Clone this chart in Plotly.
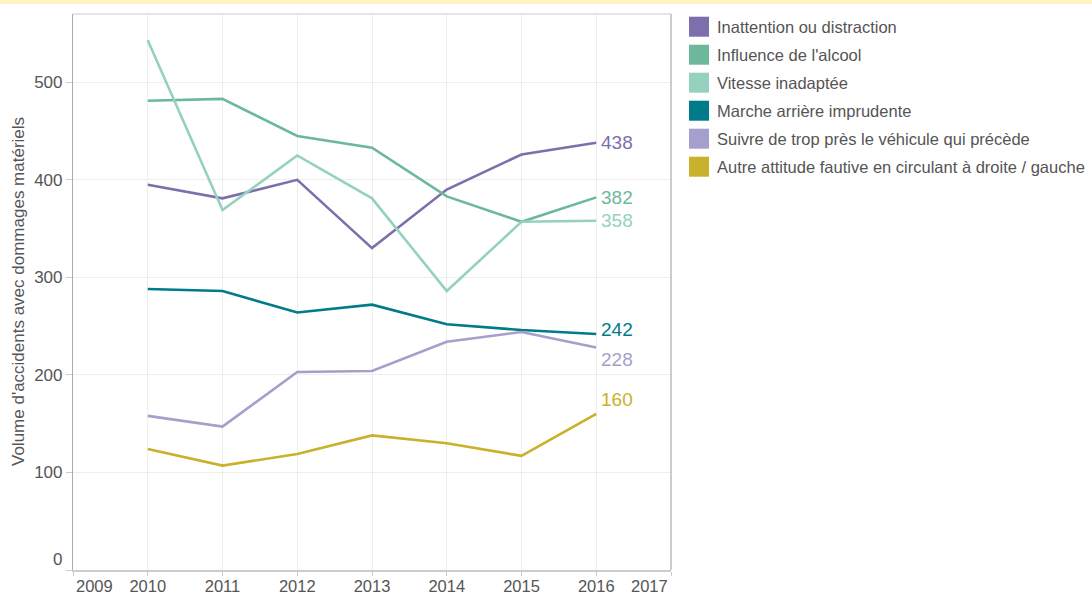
import plotly.graph_objects as go

years = [2010, 2011, 2012, 2013, 2014, 2015, 2016]
series_names = [
    "Inattention ou distraction",
    "Influence de l'alcool",
    "Vitesse inadaptée",
    "Marche arrière imprudente",
    "Suivre de trop près le véhicule qui précède",
    "Autre attitude fautive en circulant à droite / gauche",
]
inattention = [395, 381, 400, 330, 390, 426, 438]
alcool = [481, 483, 445, 433, 383, 357, 382]
vitesse = [543, 369, 425, 381, 286, 357, 358]
marche_arriere = [288, 286, 264, 272, 252, 246, 242]
suivre = [158, 147, 203, 204, 234, 244, 228]
autre = [124, 107, 119, 138, 130, 117, 160]
series_values = [inattention, alcool, vitesse, marche_arriere, suivre, autre]
colors = ["#7c6fab", "#6bb99a", "#94d2bf", "#007b8a", "#a59fcb", "#c9b12b"]
label_yshift = [0, 0, 0, 4, -12, 14]

y_ticks = [0, 100, 200, 300, 400, 500]
x_ticks = [2009, 2010, 2011, 2012, 2013, 2014, 2015, 2016, 2017]

FONT = "Liberation Sans, Arial, sans-serif"
GREY = "#555555"

W, H = 1092, 597
ML, MR, MT, MB = 73, 421, 14, 27
PW, PH = W - ML - MR, H - MT - MB

fig = go.Figure()
for name, vals, col in zip(series_names, series_values, colors):
    fig.add_trace(go.Scatter(x=years, y=vals, mode="lines", name=name,
                             line=dict(color=col, width=2.6), showlegend=False,
                             hoverinfo="x+y+name"))

annotations = []
for vals, col, ys in zip(series_values, colors, label_yshift):
    annotations.append(dict(x=years[-1], y=vals[-1], xref="x", yref="y", text=str(vals[-1]),
                            showarrow=False, xanchor="left", yanchor="middle", xshift=3, yshift=ys,
                            font=dict(family=FONT, size=19, color=col)))

annotations.append(dict(x=x_ticks[0], y=0, xref="x", yref="paper", text=str(x_ticks[0]), showarrow=False,
                        xanchor="left", yanchor="top", yshift=-5, xshift=1,
                        font=dict(family=FONT, size=16.5, color=GREY)))
annotations.append(dict(x=x_ticks[-1], y=0, xref="x", yref="paper", text=str(x_ticks[-1]), showarrow=False,
                        xanchor="right", yanchor="top", yshift=-5, xshift=-1,
                        font=dict(family=FONT, size=16.5, color=GREY)))
annotations.append(dict(x=0, y=y_ticks[0], xref="paper", yref="y", text=str(y_ticks[0]), showarrow=False,
                        xanchor="right", yanchor="bottom", xshift=-9, yshift=-1,
                        font=dict(family=FONT, size=17, color=GREY)))

annotations.append(dict(x=(18 - ML) / PW, y=0.5, xref="paper", yref="paper",
                        text="Volume d'accidents avec dommages matériels", showarrow=False,
                        textangle=-90, xanchor="center", yanchor="middle",
                        font=dict(family=FONT, size=17, color=GREY)))

shapes = []
for i, (name, col) in enumerate(zip(series_names, colors)):
    cy = 26.7 + 28 * i
    x0 = (689 - ML) / PW
    x1 = (709 - ML) / PW
    ytop = 1 - (cy - 10 - MT) / PH
    ybot = 1 - (cy + 10 - MT) / PH
    shapes.append(dict(type="rect", xref="paper", yref="paper", x0=x0, x1=x1, y0=ybot, y1=ytop,
                       fillcolor=col, line=dict(width=0)))
    annotations.append(dict(x=(715 - ML) / PW, y=1 - (cy - MT) / PH, xref="paper", yref="paper",
                            text=name, showarrow=False, xanchor="left", yanchor="middle",
                            font=dict(family=FONT, size=16.5, color=GREY)))

shapes.append(dict(type="rect", xref="paper", yref="paper", x0=-ML / PW, x1=1 + MR / PW,
                   y0=1 + (MT - 4) / PH, y1=1 + MT / PH, fillcolor="#fff3c4", line=dict(width=0),
                   layer="below"))
shapes.append(dict(type="line", xref="paper", yref="paper", x0=0, x1=1, y0=1, y1=1,
                   line=dict(color="#dddddd", width=1.5)))
shapes.append(dict(type="line", xref="paper", yref="paper", x0=1, x1=1, y0=0, y1=1,
                   line=dict(color="#bbbbbb", width=1.5)))

fig.update_layout(
    width=W, height=H,
    margin=dict(l=ML, r=MR, t=MT, b=MB, pad=0, autoexpand=False),
    paper_bgcolor="white", plot_bgcolor="white",
    font=dict(family=FONT, color=GREY),
    showlegend=False,
    annotations=annotations,
    shapes=shapes,
    xaxis=dict(range=[x_ticks[0], x_ticks[-1]], tickmode="array", tickvals=x_ticks,
               ticktext=[""] + [str(v) for v in x_ticks[1:-1]] + [""],
               showgrid=True, gridcolor="#eeeeee", gridwidth=1,
               showline=True, linecolor="#cccccc", linewidth=1.5,
               ticks="outside", ticklen=4, tickcolor="#cccccc", ticklabelstandoff=-4,
               tickfont=dict(family=FONT, size=16.5, color=GREY), zeroline=False,
               automargin=False, fixedrange=True),
    yaxis=dict(range=[0, 570], tickmode="array", tickvals=y_ticks,
               ticktext=[""] + [str(v) for v in y_ticks[1:]],
               showgrid=True, gridcolor="#eeeeee", gridwidth=1,
               showline=True, linecolor="#aaaaaa", linewidth=1.2,
               ticks="outside", ticklen=6, tickcolor="#cccccc",
               tickfont=dict(family=FONT, size=17, color=GREY), zeroline=False,
               automargin=False, fixedrange=True),
)

fig.write_html("out.html", config={"displayModeBar": False},
               post_script="document.body.style.margin='0';document.body.style.overflow='hidden';")
